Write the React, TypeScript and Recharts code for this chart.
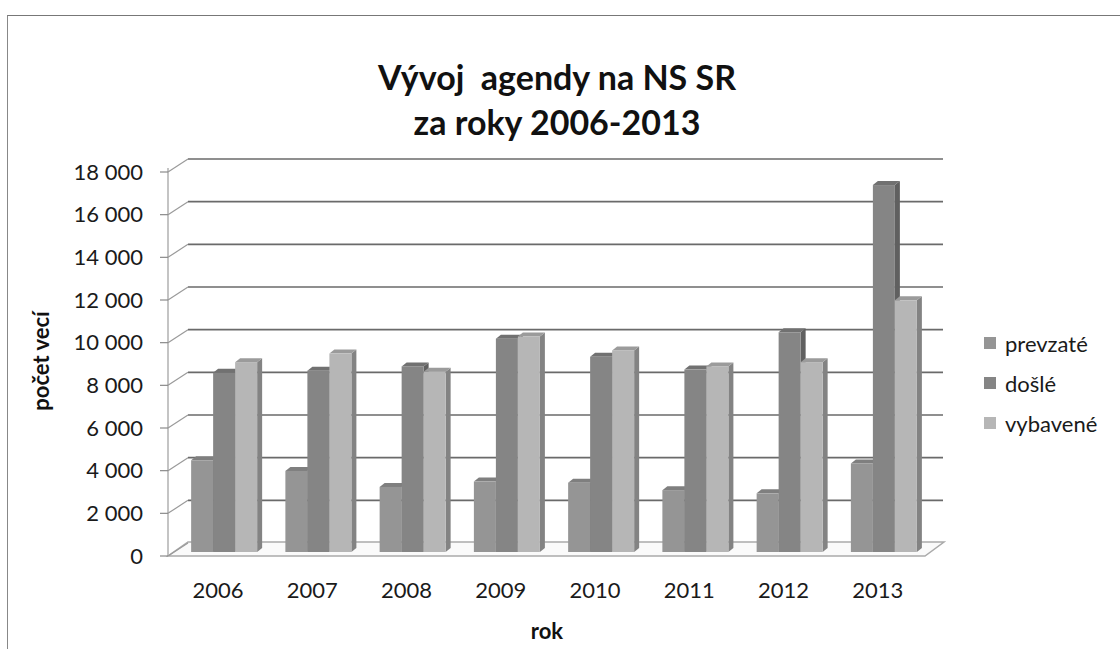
import React from 'react'
import { BarChart, Bar, XAxis, YAxis, CartesianGrid } from 'recharts'

const years = ['2006', '2007', '2008', '2009', '2010', '2011', '2012', '2013']
const prevzate = [4300, 3800, 3050, 3300, 3250, 2900, 2750, 4150]
const dosle = [8400, 8500, 8700, 10000, 9150, 8550, 10300, 17200]
const vybavene = [8900, 9300, 8450, 10100, 9450, 8700, 8900, 11800]
const yTicks = [0, 2000, 4000, 6000, 8000, 10000, 12000, 14000, 16000, 18000]

const seriesNames = ['prevzaté', 'došlé', 'vybavené']
const seriesColors = ['#959595', '#858585', '#b6b6b6']

const data = years.map((y, i) => ({
  year: y,
  prevzate: prevzate[i],
  dosle: dosle[i],
  vybavene: vybavene[i],
}))

const FONT = 'Lato, "Open Sans", sans-serif'
const DX = 5
const DY = 4

function shade(hex: string, k: number) {
  const n = parseInt(hex.slice(1), 16)
  const r = Math.round(((n >> 16) & 255) * k)
  const g = Math.round(((n >> 8) & 255) * k)
  const b = Math.round((n & 255) * k)
  return `rgb(${r},${g},${b})`
}

// front face + top + right side, fake 3d column
function Box3D(props: any) {
  const { x, y, width, height, fill } = props
  if (!height || height <= 0) return null
  const top = `${x},${y} ${x + width},${y} ${x + width + DX},${y - DY} ${x + DX},${y - DY}`
  const side = `${x + width},${y} ${x + width + DX},${y - DY} ${x + width + DX},${y + height - DY} ${x + width},${y + height}`
  return (
    <g>
      <polygon points={side} fill={shade(fill, 0.72)} />
      <polygon points={top} fill={shade(fill, 0.85)} />
      <rect x={x} y={y} width={width} height={height} fill={fill} />
    </g>
  )
}

function YTick(props: any) {
  const { y, payload } = props
  const fy = y + 4
  return (
    <g>
      <line x1={160} y1={fy} x2={168} y2={fy} stroke="#8a8a8a" strokeWidth={1.2} />
      <line x1={168} y1={fy} x2={188} y2={y - 9} stroke="#9a9a9a" strokeWidth={1.2} />
      <text x={143} y={fy + 2} textAnchor="end" dominantBaseline="middle"
        fontFamily={FONT} fontSize={22} fill="#1a1a1a">
        {payload.value.toLocaleString('sk-SK').replace(/\s/g, ' ')}
      </text>
    </g>
  )
}

function XTick(props: any) {
  const { x, payload } = props
  return (
    <text x={x - 6} y={592} textAnchor="middle" dominantBaseline="middle"
      fontFamily={FONT} fontSize={22} fill="#1a1a1a">
      {payload.value}
    </text>
  )
}

function GridLine(props: any) {
  const { x1, x2, y1, index, y, height } = props
  const bottom = y + height
  const isBottom = Math.abs(y1 - bottom) < 0.5
  return (
    <g key={`g-${index}`}>
      {isBottom && (
        <>
          <polygon
            points={`168,${y1 + 4} ${x2 - 6},${y1 + 4} ${x2 + 13},${y1 - 10} 188,${y1 - 10}`}
            fill="#fafafa" stroke="#aaa" strokeWidth={1.5} />
          <line x1={168} y1={y} x2={168} y2={bottom + 4} stroke="#b0b0b0" strokeWidth={1.5} />
        </>
      )}
      {!isBottom && (
        <line x1={x1 + 11} y1={y1 - 9} x2={x2 + 12} y2={y1 - 9} stroke="#6a6a6a" strokeWidth={1.6} />
      )}
    </g>
  )
}

function LegendBox() {
  return (
    <div style={{ position: 'absolute', left: 984, top: 323, fontFamily: FONT, fontSize: 22, color: '#1a1a1a' }}>
      {seriesNames.map((n, i) => (
        <div key={n} style={{ display: 'flex', alignItems: 'center', height: 40 }}>
          <span style={{ width: 12, height: 12, background: seriesColors[i], marginRight: 9, display: 'inline-block' }} />
          {n}
        </div>
      ))}
    </div>
  )
}

export default function App() {
  return (
    <div style={{ position: 'absolute', left: 0, top: 0, width: 1120, height: 649, background: '#fff' }}>
      <div style={{
        position: 'absolute', left: 7, top: 15, right: 0, bottom: 0,
        borderTop: '1.5px solid #777', borderLeft: '1.5px solid #888',
      }} />
      <div style={{
        position: 'absolute', left: 0, width: 1114, top: 54, textAlign: 'center',
        fontFamily: FONT, fontWeight: 700, fontSize: 34, lineHeight: '45px', color: '#111',
      }}>
        <div style={{ whiteSpace: 'pre' }}>Vývoj  agendy na NS SR</div>
        <div>za roky 2006-2013</div>
      </div>
      <BarChart width={1120} height={649} data={data}
        margin={{ top: 168, right: 189, bottom: 0, left: 117 }}
        barCategoryGap="15%" barGap={0}>
        <CartesianGrid vertical={false} horizontal={GridLine as any} />
        <XAxis dataKey="year" axisLine={false} tickLine={false} tick={<XTick />} height={97}
          label={() => (
            <text x={547} y={633} textAnchor="middle" dominantBaseline="middle"
              fontFamily={FONT} fontSize={22} fontWeight={700} fill="#111">rok</text>
          )} />
        <YAxis domain={[0, 18000]} ticks={yTicks} interval={0} width={60}
          axisLine={false} tickLine={false} tick={<YTick />}
          label={() => (
            <text x={43} y={361} textAnchor="middle" dominantBaseline="middle"
              transform="rotate(-90 43 361)"
              fontFamily={FONT} fontSize={22} fontWeight={700} fill="#111">počet vecí</text>
          )} />
        <Bar dataKey="prevzate" name={seriesNames[0]} fill={seriesColors[0]} shape={<Box3D />} isAnimationActive={false} />
        <Bar dataKey="dosle" name={seriesNames[1]} fill={seriesColors[1]} shape={<Box3D />} isAnimationActive={false} />
        <Bar dataKey="vybavene" name={seriesNames[2]} fill={seriesColors[2]} shape={<Box3D />} isAnimationActive={false} />
      </BarChart>
      <LegendBox />
    </div>
  )
}
